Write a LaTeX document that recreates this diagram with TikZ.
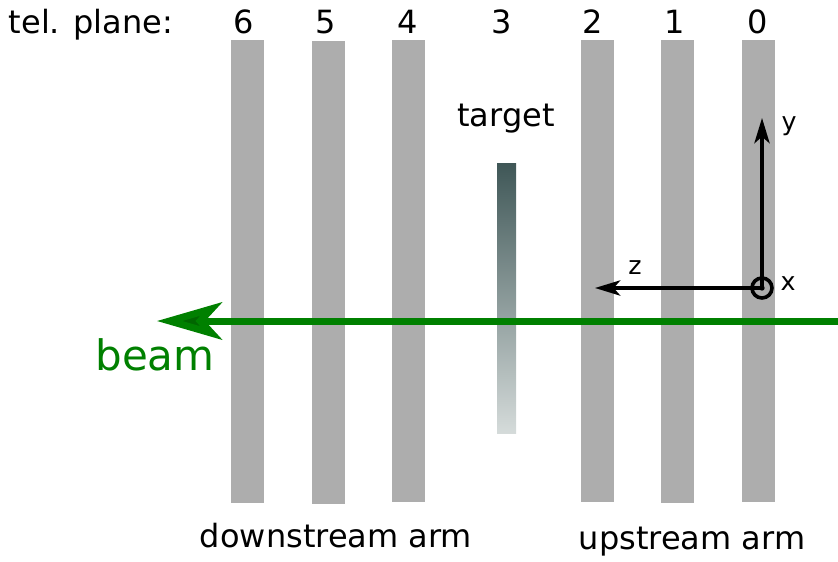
\documentclass[tikz,border=0pt]{standalone}
\usepackage{fontspec}
\setmainfont{DejaVu Sans}
\usepackage{tikz}
\usetikzlibrary{arrows.meta}

\definecolor{planegray}{HTML}{ADADAD}
\definecolor{beamgreen}{HTML}{008000}
\definecolor{tgtdark}{HTML}{3F5757}
\definecolor{tgtlight}{HTML}{D5DBDA}

\begin{document}
\begin{tikzpicture}
      % Set up styles (1 unit = 1 pixel of the figure)
      [x=0.75pt, y=-0.75pt,
       plane/.style={fill=planegray, draw=none, minimum width=24.75pt, minimum height=347pt, inner sep=0pt},
       txt/.style={anchor=base, inner sep=0pt, font=\fontsize{24}{28}\selectfont},
       axlabel/.style={inner sep=0pt, font=\fontsize{19}{23}\selectfont},
       axis/.style={line width=2.5pt, -{Stealth[length=19pt, width=11.5pt, inset=5pt]}}]

      \useasboundingbox (0,0) rectangle (838,561);

      % Telescope planes
      \node[plane] (p6) at (247.5,271.5) {};
      \node[plane] (p5) at (328.5,272.5) {};
      \node[plane] (p4) at (408.5,271) {};
      \node[plane] (p2) at (597.5,271) {};
      \node[plane] (p1) at (677.5,271.5) {};
      \node[plane] (p0) at (758.5,271) {};

      % Target
      \shade[top color=tgtdark, bottom color=tgtlight] (497,163) rectangle (516,433);
      \coordinate (tgt) at (506.5,298);

      % Plane numbers
      \node[txt] (l) at (91,33) {tel. plane:};
      \node[txt] (n6) at (244,33) {6};
      \node[txt] (n5) at (326,33) {5};
      \node[txt] (n4) at (408,33) {4};
      \node[txt] (n3) at (502,33) {3};
      \node[txt] (n2) at (593,33) {2};
      \node[txt] (n1) at (675,33) {1};
      \node[txt] (n0) at (758,33) {0};
      \node[txt] (target) at (506,126) {target};

      % Beam
      \coordinate (bin) at (838,321);
      \coordinate (bout) at (157,321);
      \draw[beamgreen, line width=5.25pt, -{Stealth[length=48.75pt, width=28pt, inset=12.75pt, fill=green!40!black]}] (bin) -- (bout);
      \node[txt, text=beamgreen, font=\fontsize{31.5}{36}\selectfont] (beam) at (155,370) {beam};

      % Coordinate system
      \coordinate (o) at (762,288);
      \coordinate (ytip) at (762,118);
      \coordinate (ztip) at (595,288);
      \draw[axis] (o) -- (ytip);
      \draw[axis] (o) -- (ztip);
      \draw[line width=2.7pt] (o) circle (7.5pt);
      \fill (o) circle (2pt);
      \node[axlabel] (y) at (789,126) {y};
      \node[axlabel] (z) at (635,268) {z};
      \node[axlabel] (x) at (788,284) {x};

      % Arms
      \node[txt] (down) at (336,547) {downstream arm};
      \node[txt] (up) at (692,549) {upstream arm};

    \end{tikzpicture}
\end{document}
